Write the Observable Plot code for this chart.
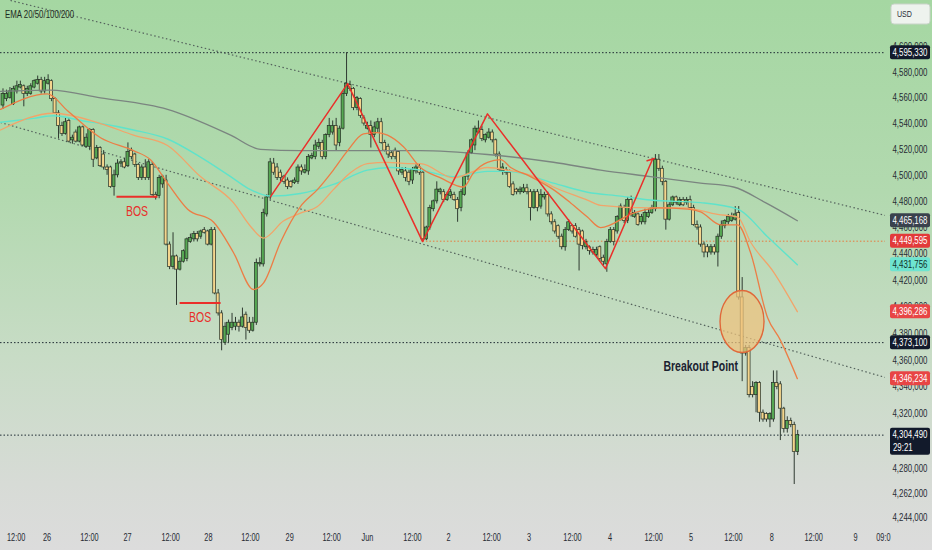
<!DOCTYPE html>
<html>
<head>
<meta charset="utf-8">
<script src="https://cdn.jsdelivr.net/npm/d3@7"></script>
<script src="https://cdn.jsdelivr.net/npm/@observablehq/plot@0.6"></script>
<style>
html,body{margin:0;padding:0;}
#chart{width:932px;height:550px;overflow:hidden;background:linear-gradient(to bottom,#a5d7a2 0%,#b2d9af 35%,#c8dcc6 65%,#d7dbd6 88%,#dcdcdc 100%);}
#chart svg{display:block;}
</style>
</head>
<body>
<div id="chart"></div>
<script>
// ---------- DATA (prices in thousands) ----------
const opens = [
4554,4559,4560,4555,4565,4568,4569,4563,4563,4568,
4571,4574,4565,4571,4573,4559,4548,4538,4532,4542,
4527,4533,4526,4537,4522,4522,4535,4513,4521,4516,
4506,4506,4491,4500,4509,4510,4507,4519,4516,4508,
4498,4506,4498,4508,4485,4484,4493,4496,4447,4430,
4438,4428,4434,4436,4449,4451,4455,4453,4458,4457,
4447,4458,4410,4395,4373,4379,4384,4385,4388,4385,
4394,4388,4382,4388,4432,4432,4470,4483,4509,4506,
4502,4499,4496,4495,4494,4495,4506,4502,4503,4513,
4514,4522,4525,4514,4531,4533,4538,4525,4536,4563,
4570,4567,4552,4559,4544,4536,4538,4531,4536,4541,
4525,4522,4517,4519,4518,4502,4503,4502,4496,4503,
4506,4502,4451,4460,4474,4480,4487,4487,4481,4484,
4485,4481,4475,4485,4499,4517,4523,4533,4535,4527,
4529,4533,4527,4516,4503,4504,4502,4493,4489,4487,
4487,4490,4487,4475,4487,4476,4483,4485,4470,4464,
4461,4453,4445,4458,4461,4461,4458,4457,4445,4445,
4443,4439,4445,4437,4432,4449,4458,4457,4466,4475,
4465,4481,4468,4470,4464,4464,4468,4471,4474,4512,
4505,4495,4466,4477,4483,4477,4481,4479,4481,4475,
4462,4460,4447,4445,4441,4445,4441,4453,4461,4464,
4465,4466,4471,4407,4365,4369,4340,4334,4343,4321,
4320,4316,4316,4343,4342,4324,4309,4315,4312,4292];
const closes = [
4563,4563,4565,4567,4569,4570,4563,4567,4569,4573,
4574,4565,4573,4574,4559,4548,4538,4532,4541,4526,
4529,4526,4537,4523,4529,4535,4512,4521,4507,4506,
4504,4491,4500,4509,4510,4506,4518,4514,4508,4498,
4506,4498,4510,4485,4483,4498,4499,4447,4430,4438,
4428,4434,4442,4451,4452,4455,4451,4457,4456,4447,
4458,4410,4395,4375,4385,4388,4388,4388,4385,4392,
4384,4382,4388,4433,4433,4471,4483,4510,4502,4498,
4498,4495,4491,4491,4496,4506,4503,4504,4514,4515,
4523,4525,4514,4531,4538,4538,4523,4536,4563,4571,
4567,4552,4560,4546,4540,4538,4531,4537,4541,4525,
4519,4516,4514,4514,4503,4504,4498,4495,4504,4506,
4502,4451,4460,4475,4480,4489,4489,4481,4485,4487,
4481,4474,4487,4499,4517,4527,4536,4536,4528,4531,
4533,4527,4516,4504,4506,4502,4491,4485,4487,4489,
4490,4487,4475,4487,4475,4485,4485,4470,4464,4457,
4453,4445,4458,4464,4457,4453,4447,4446,4449,4442,
4441,4443,4436,4434,4449,4458,4449,4468,4476,4465,
4481,4470,4471,4462,4468,4471,4471,4475,4512,4505,
4495,4466,4477,4483,4479,4481,4477,4481,4475,4462,
4460,4447,4441,4441,4445,4441,4453,4462,4465,4468,
4468,4470,4407,4365,4369,4334,4334,4343,4321,4316,
4316,4320,4343,4340,4324,4309,4315,4312,4292,4304.49];
const highs = [
4567,4566,4568,4569,4573,4573,4570,4569,4571,4574,
4577,4576,4576,4578,4574,4560,4550,4541,4544,4544,
4531,4535,4538,4538,4532,4536,4536,4523,4522,4519,
4508,4507,4504,4512,4512,4513,4525,4521,4517,4509,
4508,4512,4512,4510,4487,4500,4500,4500,4449,4456,
4439,4437,4443,4452,4455,4457,4457,4458,4460,4458,
4460,4460,4413,4397,4388,4390,4395,4392,4390,4399,
4396,4392,4392,4436,4437,4474,4485,4513,4513,4509,
4504,4500,4498,4496,4498,4508,4508,4508,4516,4517,
4527,4528,4527,4532,4544,4542,4544,4538,4565,4595.33,
4573,4568,4561,4560,4546,4541,4542,4541,4544,4544,
4527,4524,4519,4521,4519,4506,4506,4504,4506,4508,
4509,4504,4461,4477,4481,4495,4490,4489,4487,4489,
4487,4483,4489,4500,4519,4528,4538,4542,4538,4532,
4536,4535,4528,4518,4509,4506,4504,4495,4490,4491,
4493,4493,4489,4489,4489,4489,4487,4487,4472,4466,
4462,4455,4460,4466,4462,4463,4460,4458,4451,4446,
4445,4445,4446,4439,4451,4460,4460,4469,4478,4477,
4483,4484,4473,4471,4470,4474,4474,4477,4516,4516,
4507,4496,4479,4484,4484,4483,4483,4483,4484,4477,
4465,4462,4449,4447,4447,4447,4455,4465,4466,4470,
4471,4476,4476,4422,4371,4371,4344,4344,4344,4323,
4321,4321,4352,4352,4344,4325,4318,4317,4314,4308];
const lows = [
4551,4557,4559,4554,4563,4567,4553,4561,4562,4567,
4570,4563,4563,4570,4557,4547,4528,4530,4531,4525,
4524,4525,4525,4522,4521,4519,4506,4512,4506,4504,
4500,4490,4484,4498,4506,4505,4506,4512,4506,4496,
4496,4496,4496,4484,4481,4482,4490,4446,4428,4428,
4401,4427,4433,4434,4448,4449,4449,4451,4455,4446,
4446,4409,4393,4367,4371,4373,4382,4382,4381,4384,
4375,4380,4381,4386,4430,4430,4468,4481,4500,4496,
4495,4493,4489,4490,4493,4493,4500,4501,4500,4512,
4512,4520,4512,4512,4529,4531,4519,4522,4535,4561,
4565,4550,4550,4544,4538,4535,4521,4529,4533,4524,
4518,4513,4512,4512,4500,4500,4495,4492,4493,4501,
4500,4449.595,4450,4458,4472,4478,4485,4479,4480,4482,
4480,4464,4472,4484,4496,4516,4519,4532,4526,4525,
4528,4525,4514,4503,4500,4500,4490,4484,4485,4485,
4486,4485,4465,4474,4472,4474,4481,4468,4462,4455,
4451,4443,4442,4457,4455,4452,4427,4443,4443,4439,
4439,4438,4434,4431,4426,4448,4446,4455,4465,4463,
4463,4468,4467,4461,4462,4462,4467,4470,4472,4503,
4492,4458,4465,4476,4477,4476,4476,4477,4474,4461,
4458,4445,4437,4437,4439,4439,4430,4451,4459,4462,
4464,4465,4405,4344,4363,4332,4332,4321,4314,4314,
4314,4310,4314,4338,4300.5,4306,4306,4310,4268.3,4289.5];

// EMA lines: [bar index, price]
const ema20 = [[-0.7,4551],[12.8,4563],[18.6,4550],[28.1,4529],[37.6,4519],[42.5,4512],[47.4,4494],[53.2,4474],[60.7,4464],[66.4,4441],[72.2,4413],[75.1,4418],[80,4449],[85.7,4476],[90.6,4489],[95.2,4504],[99.3,4519],[103.9,4532],[107.9,4533],[110.8,4531],[115.4,4522],[120.3,4506],[126.1,4498],[132.7,4491],[135.6,4502],[139.6,4510],[143.4,4512],[146.3,4506],[152,4499],[158.6,4489],[163.5,4479],[168.4,4468],[172.2,4460],[181.7,4471],[188.6,4475],[197.3,4474],[201,4472],[206.8,4462],[211.7,4462],[215.4,4441],[220.3,4392],[224,4375],[228.9,4346.234]];
const ema50 = [[-0.7,4535],[14.6,4548],[28.1,4540],[37.6,4531],[47.4,4523],[56.9,4499],[66.4,4479],[71.3,4461],[75.1,4452],[80.8,4465],[85.7,4471],[90.6,4476],[95.2,4489],[100.1,4502],[105,4509],[110.8,4510],[116.6,4509],[120.3,4509],[129.8,4498],[139.6,4506],[145.4,4504],[152,4500],[158.6,4491],[168.4,4481],[172.2,4477],[186.6,4475],[196.1,4475],[205.9,4470],[211.7,4468],[215.4,4449],[222.1,4426],[228.9,4396.286]];
const ema100 = [[-0.7,4541],[8.8,4544],[14.6,4546],[23.2,4542],[28.1,4540],[37.6,4535],[47.4,4528],[56.9,4514],[65.6,4499],[71.3,4489],[77.1,4484],[85.7,4486],[95.2,4493],[105,4504],[111.7,4506],[120.3,4504],[129.8,4499],[139.6,4503],[145.4,4503],[158.6,4494],[168.4,4487],[178,4484],[186.6,4481],[201,4479],[211.7,4474],[220.3,4453],[228.9,4431.756]];
const ema200 = [[-0.7,4565],[13.7,4566],[28.1,4560],[47.4,4551],[65.6,4531],[74.2,4520],[85.7,4519],[100.1,4519],[120.3,4519],[139.6,4516],[158.6,4510],[172.2,4504],[186.6,4499],[201,4494],[210.5,4491],[219.7,4479],[228.9,4465.168]];

// drawings
const darkLevels = [4595.33, 4373.10, 4304.49];
const swingLevel = {i: 121, p: 4449.595};
const trendLines = [
  {i1: 2.16, p1: 4636.5, i2: 254.3, p2: 4469.2},
  {i1: -0.72, p1: 4540.8, i2: 254.3, p2: 4347.1}
];
const zigzag = [[77.1,4483.6],[99.3,4571.1],[120.9,4449.3],[139.6,4547.5],[173.6,4428.8],[187.2,4512.5]];
const zigHead = [[185.6,4511.2],[187.7,4513.0]];
const bos = [{i1: 32.7, i2: 44.5, p: 4483.6}, {i1: 50.9, i2: 62.7, p: 4402.9}];
const breakout = {i: 213.1, p: 4388.5};
const breakoutText = {i: 190.3, p: 4355, t: "Breakout Point"};

// axes
const yTicks = [4600,4580,4560,4540,4520,4500,4480,4460,4440,4420,4400,4380,4360,4340,4320,4280,4262,4244];
const xTickIdx = [3.8,12.7,24.9,35.9,48.3,59.2,71.3,82.6,94.7,105,118,128.4,140.8,151.6,164.1,174.9,187.5,198.3,210.5,221.5,233.6,245.7,253.7];
const xTickLabels = ["12:00","26","12:00","27","12:00","28","12:00","29","12:00","Jun","12:00","2","12:00","3","12:00","4","12:00","5","12:00","8","12:00","9","09:0"];

// price tags on the right scale
const tagValues = [4595.33, 4465.168, 4449.595, 4431.756, 4396.286, 4373.10, 4346.234, 4304.49];
const tagKinds  = ["price","ema200","level","ema100","ema50","price","ema20","last"];
const countdown = "29:21";
const title = "EMA 20/50/100/200";
const currency = "USD";

// ---------- CHART ----------
const FONT = "'Liberation Sans',Arial,sans-serif";
const tagStyle = {price:["#121a2b","#ffffff"], ema200:["#3a424d","#ffffff"], level:["#e23a3a","#ffffff"], ema100:["#6ee4d0","#10302a"], ema50:["#e84545","#ffffff"], ema20:["#e84545","#ffffff"], last:["#121a2b","#ffffff"]};
const fmtP = v => d3.format(",")(Math.round(v * 1000));
const candles = closes.map((c, i) => ({i, o: opens[i], h: highs[i], l: lows[i], c}));
const upC = candles.filter(d => d.c >= d.o), dnC = candles.filter(d => d.c < d.o);
const bw = 0.42;
const X_END = 254.3;
const xLabelMap = new Map(xTickIdx.map((v, k) => [v, xTickLabels[k]]));

function ellipseMark(index, scales) {
  const g = d3.create("svg:g");
  g.append("ellipse")
    .attr("cx", scales.x(breakout.i)).attr("cy", scales.y(breakout.p))
    .attr("rx", 22).attr("ry", 31)
    .attr("fill", "#eec27c").attr("fill-opacity", 0.72)
    .attr("stroke", "#e0683a").attr("stroke-width", 1.4);
  return g.node();
}

function tagsMark(index, scales, values, dims) {
  const g = d3.create("svg:g").attr("font-family", FONT).attr("font-size", 10.5).attr("text-anchor", "start");
  const x0 = dims.width - dims.marginRight + 5, w = dims.marginRight - 7;
  tagValues.forEach((v, k) => {
    const [bg, fg] = tagStyle[tagKinds[k]];
    const y = scales.y(v);
    const last = tagKinds[k] === "last";
    g.append("rect").attr("x", x0).attr("y", y - 7).attr("width", w).attr("height", last ? 27 : 14).attr("rx", 2).attr("fill", bg);
    g.append("text").attr("x", x0 + w / 2).attr("y", y).attr("dy", "0.36em").attr("text-anchor", "middle").attr("fill", fg).text(fmtP(v));
    if (last) g.append("text").attr("x", x0 + 3).attr("y", y + 13).attr("dy", "0.36em").attr("fill", fg).text(countdown);
  });
  // currency box
  g.append("rect").attr("x", x0 + 1).attr("y", 4).attr("width", w - 1).attr("height", 20).attr("rx", 3)
    .attr("fill", "#eef3ee").attr("stroke", "#c9d3c9");
  g.append("text").attr("x", x0 + 7).attr("y", 14).attr("dy", "0.35em").attr("font-size", 9.5).attr("fill", "#2a2e39").text(currency);
  // indicator title
  g.append("text").attr("x", 5).attr("y", 14).attr("dy", "0.35em").attr("font-size", 10.5).attr("fill", "#1f2a22").text(title);
  return g.node();
}

const chart = Plot.plot({
  width: 932, height: 550,
  marginLeft: 0, marginRight: 47, marginTop: 0, marginBottom: 25,
  x: {type: "linear", domain: [-0.72, X_END]},
  y: {type: "log", domain: [4238.5, 4636.5]},
  style: {background: "transparent", fontFamily: FONT, fontSize: "10.5px", color: "#262a33", overflow: "visible"},
  marks: [
    Plot.axisY({anchor: "right", ticks: yTicks, tickFormat: d => d3.format(",")(d * 1000), tickSize: 0, tickPadding: 7, textAnchor: "start", label: null, fontSize: 10.5}),
    Plot.axisX({ticks: xTickIdx, tickFormat: d => xLabelMap.get(d), tickSize: 0, tickPadding: 8, label: null, fontSize: 10.5}),
    Plot.ruleY(darkLevels, {stroke: "#1f2b33", strokeDasharray: "1.5,2", strokeWidth: 1}),
    Plot.ruleY([swingLevel], {y: "p", x1: "i", x2: () => X_END, stroke: "#e8783c", strokeDasharray: "1.5,2", strokeWidth: 1}),
    Plot.link(trendLines, {x1: "i1", y1: "p1", x2: "i2", y2: "p2", stroke: "#55635d", strokeWidth: 1.2, strokeDasharray: "1.5,2.5", clip: true}),
    Plot.ruleX(candles, {x: "i", y1: "l", y2: "h", stroke: "#2f3a31", strokeWidth: 1}),
    Plot.rect(upC, {x1: d => d.i - bw, x2: d => d.i + bw, y1: "o", y2: "c", fill: "#56a853", stroke: "#253025", strokeWidth: 0.7}),
    Plot.rect(dnC, {x1: d => d.i - bw, x2: d => d.i + bw, y1: "o", y2: "c", fill: "#f4d58d", stroke: "#253025", strokeWidth: 0.7}),
    Plot.line(ema200, {x: d => d[0], y: d => d[1], stroke: "#7b8580", strokeWidth: 1.4, curve: "monotone-x"}),
    Plot.line(ema100, {x: d => d[0], y: d => d[1], stroke: "#5fe3cb", strokeWidth: 1.4, curve: "monotone-x"}),
    Plot.line(ema50, {x: d => d[0], y: d => d[1], stroke: "#f2a46a", strokeWidth: 1.3, curve: "monotone-x"}),
    Plot.line(ema20, {x: d => d[0], y: d => d[1], stroke: "#ec7d45", strokeWidth: 1.3, curve: "monotone-x"}),
    Plot.line(zigzag, {x: d => d[0], y: d => d[1], stroke: "#ea2f2a", strokeWidth: 1.5}),
    Plot.line(zigHead, {x: d => d[0], y: d => d[1], stroke: "#ea2f2a", strokeWidth: 1.5}),
    Plot.link(bos, {x1: "i1", x2: "i2", y1: "p", y2: "p", stroke: "#ea2f2a", strokeWidth: 2}),
    Plot.text(bos, {x: d => (d.i1 + d.i2) / 2, y: "p", text: () => "BOS", dy: 15, fill: "#e8302b", fontSize: 14}),
    ellipseMark,
    Plot.text([breakoutText], {x: "i", y: "p", text: "t", textAnchor: "start", fill: "#1b2230", fontSize: 14, fontWeight: "bold"}),
    tagsMark
  ]
});
document.getElementById("chart").appendChild(chart);

// condense all labels horizontally around their anchor (the reference uses a narrow type face)
chart.querySelectorAll("text").forEach(t => {
  const g = t.closest("g[aria-label]");
  const isX = g && /x-axis/.test(g.getAttribute("aria-label"));
  const f = isX ? 0.70 : 0.75;
  const ax = parseFloat(t.getAttribute("x")) || 0;
  const tr = t.getAttribute("transform") || "";
  t.setAttribute("transform", `${tr} translate(${ax},0) scale(${f},1) translate(${-ax},0)`.trim());
});
</script>
</body>
</html>
